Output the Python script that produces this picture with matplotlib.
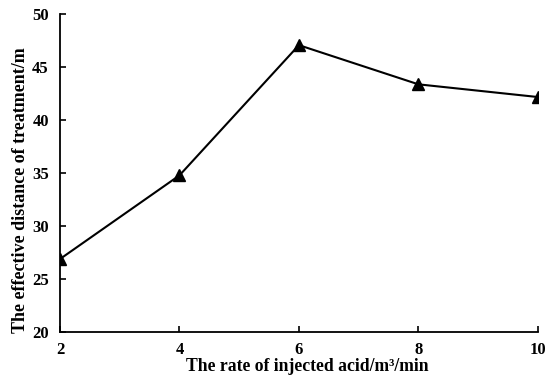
import matplotlib
matplotlib.use('Agg')
import matplotlib.pyplot as plt

# acid injection rate vs effective treatment distance
rate = [2, 4, 6, 8, 10]
distance = [26.9, 34.8, 47.1, 43.4, 42.2]
xticks = [2, 4, 6, 8, 10]
yticks = [20, 25, 30, 35, 40, 45, 50]

plt.rcParams['font.family'] = ['Liberation Serif', 'DejaVu Serif']
plt.rcParams['font.weight'] = 'bold'

fig = plt.figure(figsize=(5.5, 3.8), dpi=100)
ax = fig.add_axes([0.109, 0.126, 0.869, 0.836])

ax.plot(rate, distance, color='black', lw=1.5, marker='^', ms=8,
        markerfacecolor='black', markeredgecolor='black')

ax.set_xlim(2, 10)
ax.set_ylim(20, 50)
ax.set_xticks(xticks)
ax.set_yticks(yticks)
ax.set_xticklabels([str(v) for v in xticks], fontsize=12, fontweight='bold')
ax.set_yticklabels([str(v) for v in yticks], fontsize=12, fontweight='bold')
ax.tick_params(axis='x', direction='in', length=4, width=1.2, pad=7)
ax.tick_params(axis='y', direction='in', length=4, width=1.2, pad=8)

for s in ['top', 'right']:
    ax.spines[s].set_visible(False)
for s in ['left', 'bottom']:
    ax.spines[s].set_linewidth(1.3)

ax.set_xlabel('The rate of injected acid/m\u00b3/min', fontsize=12.7,
              fontweight='bold', labelpad=0)
ax.set_ylabel('The effective distance of treatment/m', fontsize=13,
              fontweight='bold', labelpad=2)
ax.xaxis.label.set_x(0.517)
ax.yaxis.label.set_y(0.447)

fig.savefig('out.png', dpi=100)
